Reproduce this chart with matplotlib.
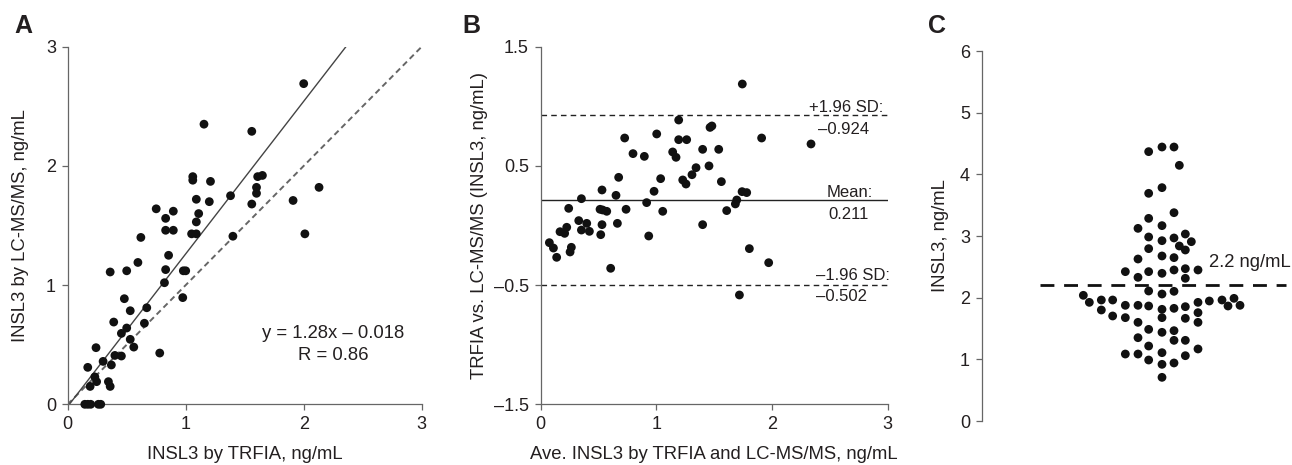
import matplotlib
matplotlib.use("Agg")
from matplotlib import pyplot as plt

plt.rcParams["font.family"] = ["Liberation Sans", "DejaVu Sans"]

# Panel A: TRFIA vs LC-MS/MS
a_x = [2.00, 1.155, 1.56, 1.06, 1.06, 1.21, 1.61, 1.65, 1.60, 1.60, 2.13, 1.38,
       1.09, 1.20, 1.56, 1.91, 0.75, 0.895, 0.83, 1.11, 1.09, 0.83, 0.895, 1.05,
       1.09, 2.01, 1.40, 0.62, 0.855, 0.595, 0.36, 0.50, 0.83, 0.98, 1.00, 0.82,
       0.975, 0.48, 0.67, 0.53, 0.39, 0.65, 0.50, 0.455, 0.53, 0.56, 0.24, 0.78,
       0.40, 0.455, 0.30, 0.37, 0.17, 0.23, 0.245, 0.19, 0.345, 0.36, 0.145,
       0.17, 0.195, 0.26, 0.28]
a_y = [2.69, 2.35, 2.29, 1.91, 1.88, 1.87, 1.91, 1.92, 1.82, 1.77, 1.82, 1.75,
       1.72, 1.70, 1.68, 1.71, 1.64, 1.62, 1.56, 1.60, 1.53, 1.46, 1.46, 1.43,
       1.43, 1.43, 1.41, 1.40, 1.25, 1.19, 1.11, 1.12, 1.13, 1.12, 1.12, 1.02,
       0.895, 0.886, 0.81, 0.785, 0.69, 0.68, 0.64, 0.595, 0.545, 0.48, 0.475,
       0.43, 0.41, 0.405, 0.36, 0.33, 0.31, 0.23, 0.19, 0.15, 0.19, 0.15, 0.0,
       0.0, 0.0, 0.0, 0.0]
fit_slope = 1.28
fit_icpt = -0.018

# Panel B: Bland-Altman
b_x = [1.743, 1.193, 1.464, 1.48, 0.726, 1.003, 1.193, 1.262, 1.91, 2.337,
       0.798, 0.896, 1.141, 1.17, 1.40, 1.539, 1.455, 1.343, 1.308, 0.674,
       1.037, 1.228, 1.256, 1.562, 0.530, 0.651, 0.98, 1.741, 1.781, 0.352,
       1.695, 0.916, 1.683, 0.242, 0.513, 0.536, 0.571, 0.738, 1.055, 1.608,
       0.329, 0.398, 0.530, 0.663, 1.40, 0.167, 0.207, 0.225, 0.352, 0.421,
       0.519, 0.934, 0.075, 0.11, 0.138, 0.265, 0.254, 1.804, 1.971, 0.605,
       1.718]
b_y = [1.187, 0.885, 0.823, 0.835, 0.734, 0.768, 0.72, 0.72, 0.734, 0.684,
       0.603, 0.58, 0.617, 0.572, 0.639, 0.639, 0.50, 0.485, 0.426, 0.404,
       0.393, 0.382, 0.348, 0.368, 0.298, 0.253, 0.287, 0.284, 0.276, 0.225,
       0.214, 0.192, 0.181, 0.144, 0.136, 0.130, 0.119, 0.136, 0.119, 0.125,
       0.041, 0.018, 0.007, 0.018, 0.007, -0.052, -0.066, -0.015, -0.038,
       -0.049, -0.077, -0.088, -0.144, -0.189, -0.267, -0.183, -0.222, -0.194,
       -0.312, -0.359, -0.583]
b_mean = 0.211
b_upper = 0.924
b_lower = -0.502

# Panel C: INSL3 values and their offsets in the dot plot (px from centre)
c_val = [4.368, 4.443, 4.443, 4.146, 3.692, 3.784, 3.378, 3.286, 3.124, 3.168,
         3.032, 2.984, 2.924, 2.968, 2.908, 2.838, 2.773, 2.795, 2.627, 2.676,
         2.649, 2.422, 2.422, 2.395, 2.449, 2.470, 2.449, 2.330, 2.314, 2.108,
         2.059, 2.103, 2.038, 1.924, 1.962, 1.962, 1.800, 1.876, 1.876, 1.865,
         1.811, 1.827, 1.854, 1.924, 1.946, 1.962, 1.865, 1.989, 1.876, 1.703,
         1.676, 1.676, 1.665, 1.757, 1.600, 1.600, 1.486, 1.438, 1.465, 1.351,
         1.308, 1.308, 1.216, 1.168, 1.086, 1.086, 1.108, 1.059, 0.989, 0.919,
         0.941, 0.708]
c_cols = [-656, -696, -732, -748, -656, -696, -732, -656, -624, -696,
          -766, -656, -696, -732, -784, -748, -766, -656, -624, -696,
          -732, -586, -656, -696, -732, -766, -804, -624, -766, -656,
          -696, -732, -460, -478, -514, -548, -514, -586, -624, -656,
          -696, -732, -766, -804, -838, -876, -894, -912, -930, -548,
          -586, -696, -766, -804, -804, -624, -656, -696, -732, -624,
          -732, -766, -656, -804, -586, -624, -696, -766, -656, -696,
          -732, -696]
c_cols = [(-c - 696) / 3 for c in c_cols]
c_cut = 2.2

W, H = 1292, 465
fig = plt.figure(figsize=(W / 100, H / 100), dpi=100)

FS_TICK = 13
FS_LAB = 13.3
SPINE = "#666666"
TXT = "#231f20"
DOT = dict(s=40, color="#111111", edgecolors="none", clip_on=False, zorder=3)


def style(ax, left_only=False):
    for s in ["top", "right"]:
        ax.spines[s].set_visible(False)
    for s in ["left", "bottom"]:
        ax.spines[s].set_color(SPINE)
        ax.spines[s].set_linewidth(0.9)
    if left_only:
        ax.spines["bottom"].set_visible(False)
    ax.tick_params(direction="out", length=4.5, width=0.9, color=SPINE,
                   labelsize=FS_TICK, labelcolor=TXT, pad=4)


# A
axA = fig.add_axes([67.7 / W, 1 - 404.3 / H, 354 / W, 357.6 / H])
style(axA)
axA.set_xlim(0, 3)
axA.set_ylim(0, 3)
axA.set_xticks([0, 1, 2, 3])
axA.set_yticks([0, 1, 2, 3])
axA.plot([0, 3], [0, 3], "--", color="#666666", lw=1.4, dashes=(3, 2))
x_end = (3 - fit_icpt) / fit_slope
axA.plot([0, x_end], [fit_icpt, fit_slope * x_end + fit_icpt], "-",
         color="#444444", lw=1.0)
axA.scatter(a_x, a_y, **DOT)
axA.text(2.25, 0.5, "y = 1.28x \u2013 0.018\nR = 0.86", ha="center",
         va="center", fontsize=FS_LAB, multialignment="center",
         linespacing=1.35, color=TXT)
axA.set_xlabel("INSL3 by TRFIA, ng/mL", fontsize=FS_LAB, labelpad=9.5,
               color=TXT)
axA.set_ylabel("INSL3 by LC-MS/MS, ng/mL", fontsize=FS_LAB, labelpad=12,
               color=TXT)

# B
axB = fig.add_axes([540.7 / W, 1 - 404.3 / H, 347 / W, 357.6 / H])
style(axB)
axB.set_xlim(0, 3)
axB.set_ylim(-1.5, 1.5)
axB.set_xticks([0, 1, 2, 3])
axB.set_yticks([-1.5, -0.5, 0.5, 1.5])
axB.set_yticklabels(["\u20131.5", "\u20130.5", "0.5", "1.5"])
axB.axhline(b_upper, color="#222222", lw=1.0, ls=(0, (4, 3)))
axB.axhline(b_lower, color="#222222", lw=1.0, ls=(0, (4, 3)))
axB.axhline(b_mean, color="#222222", lw=1.0)
axB.scatter(b_x, b_y, **DOT)
tk = dict(ha="right", va="center", fontsize=12, color=TXT)
axB.text(2.96, b_upper + 0.07, "+1.96 SD:", **tk)
axB.text(2.84, b_upper - 0.12, "\u20130.924", **tk)
axB.text(2.87, b_mean + 0.065, "Mean:", **tk)
axB.text(2.84, b_mean - 0.12, "0.211", **tk)
axB.text(3.02, b_lower + 0.08, "\u20131.96 SD:", **tk)
axB.text(2.82, b_lower - 0.095, "\u20130.502", **tk)
axB.set_xlabel("Ave. INSL3 by TRFIA and LC-MS/MS, ng/mL", fontsize=FS_LAB,
               labelpad=9.5, color=TXT)
axB.set_ylabel("TRFIA vs. LC-MS/MS (INSL3, ng/mL)", fontsize=FS_LAB,
               labelpad=4, color=TXT)

# C
axC = fig.add_axes([981.7 / W, 1 - 421 / H, 308.3 / W, 370 / H])
style(axC, left_only=True)
axC.set_xlim(-180.3, 128)
axC.set_ylim(0, 6)
axC.set_xticks([])
axC.set_yticks(range(7))
axC.plot([-122, 124], [c_cut, c_cut], color="#111111", lw=2.0,
         dashes=(5, 3.5))
axC.scatter(c_cols, c_val, **DOT)
axC.text(47, 2.57, "2.2 ng/mL", ha="left", va="center", fontsize=13.3,
         color=TXT)
axC.set_ylabel("INSL3, ng/mL", fontsize=FS_LAB, labelpad=8, color=TXT)

# panel letters
for lx, lab in [(14 / W, "A"), (462 / W, "B"), (928 / W, "C")]:
    fig.text(lx, 1 - 33 / H, lab, fontsize=18, fontweight="bold",
             ha="left", va="baseline", color=TXT)

fig.savefig("out.png", dpi=100)
